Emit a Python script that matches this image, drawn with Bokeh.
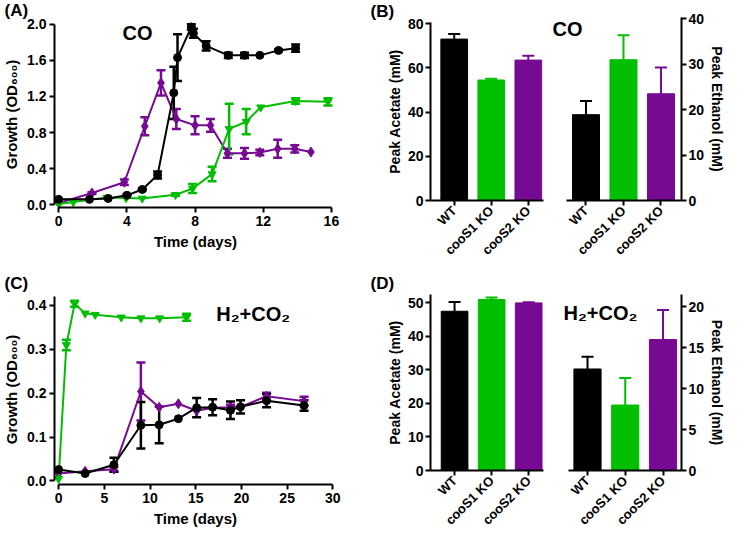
import math
from bokeh.plotting import figure
from bokeh.models import (Range1d, FixedTicker, PrintfTickFormatter, Whisker, TeeHead,
                          ColumnDataSource, Label)
from bokeh.layouts import row, column
from bokeh.embed import file_html
from bokeh.resources import INLINE

FONT = "Liberation Sans"
BLACK = "#000000"
GREEN = "#00BE00"
PURPLE = "#760A92"

# ---------------- data ----------------
GENOTYPES = ["WT", "cooS1 KO", "cooS2 KO"]
GENO_COLORS = [BLACK, GREEN, PURPLE]

# (A) growth on CO
a_wt_x = [0, 1.8, 2.9, 4.0, 4.9, 5.8, 6.75, 6.97, 7.78, 7.9, 8.65, 9.95, 10.9, 11.8, 12.9, 13.9]
a_wt_y = [0.06, 0.06, 0.07, 0.105, 0.17, 0.33, 1.24, 1.63, 1.97, 1.9, 1.76, 1.655, 1.655, 1.655, 1.71, 1.735]
a_wt_e = [0, 0, 0, 0.01, 0.01, 0.04, 0.29, 0.26, 0.03, 0.05, 0.05, 0.03, 0.03, 0, 0.01, 0.04]

a_s1_x = [0, 0.85, 2.85, 3.95, 4.9, 6.85, 7.85, 9.0, 10.0, 11.0, 11.85, 13.9, 15.8]
a_s1_y = [0.01, 0.03, 0.08, 0.075, 0.07, 0.11, 0.18, 0.34, 0.84, 0.92, 1.08, 1.15, 1.14]
a_s1_e = [0, 0, 0.01, 0, 0, 0.01, 0.05, 0.08, 0.28, 0.14, 0, 0.03, 0.04]

a_s2_x = [0, 1.95, 3.85, 5.05, 6.0, 6.9, 8.0, 8.9, 9.9, 10.9, 11.8, 12.85, 13.85, 14.8]
a_s2_y = [0.02, 0.13, 0.25, 0.87, 1.35, 0.95, 0.88, 0.88, 0.57, 0.57, 0.58, 0.62, 0.62, 0.585]
a_s2_e = [0, 0.01, 0.03, 0.1, 0.14, 0.11, 0.1, 0.07, 0.05, 0.06, 0.03, 0.1, 0.04, 0]

# (B) peak products on CO
b_acetate = [73.0, 54.5, 63.5]
b_acetate_err = [2.3, 0.6, 2.0]
b_ethanol = [18.9, 31.0, 23.5]
b_ethanol_err = [3.0, 5.4, 5.8]

# (C) growth on H2+CO2
c_s1_x = [0, 0.85, 1.75, 2.9, 4.0, 6.85, 9.0, 11.05, 14.0]
c_s1_y = [0.005, 0.31, 0.404, 0.382, 0.379, 0.373, 0.371, 0.371, 0.373]
c_s1_e = [0, 0.012, 0.007, 0, 0, 0, 0, 0, 0.008]

c_wt_x = [0, 2.9, 6.05, 9.0, 11.0, 13.1, 15.1, 16.85, 18.8, 19.9, 22.75, 26.85]
c_wt_y = [0.026, 0.017, 0.037, 0.127, 0.128, 0.142, 0.167, 0.168, 0.161, 0.169, 0.183, 0.172]
c_wt_e = [0, 0, 0.016, 0.053, 0.042, 0, 0.022, 0.018, 0.02, 0.015, 0.015, 0.012]

c_s2_x = [0, 2.9, 6.05, 9.0, 11.0, 13.1, 15.1, 16.85, 18.8, 19.9, 22.75, 26.85]
c_s2_y = [0.017, 0.022, 0.027, 0.204, 0.168, 0.176, 0.16, 0.167, 0.168, 0.169, 0.193, 0.182]
c_s2_e = [0, 0, 0.005, 0.066, 0, 0, 0, 0, 0.006, 0, 0.008, 0.01]

# (D) peak products on H2+CO2
d_acetate = [47.5, 51.0, 50.0]
d_acetate_err = [2.8, 0.6, 0.2]
d_ethanol = [12.4, 8.0, 16.0]
d_ethanol_err = [1.5, 3.3, 3.6]

# tick labels
A_XTICKS = [0, 4, 8, 12, 16]
A_YTICKS = [0.0, 0.4, 0.8, 1.2, 1.6, 2.0]
C_XTICKS = [0, 5, 10, 15, 20, 25, 30]
C_YTICKS = [0.0, 0.1, 0.2, 0.3, 0.4]
B_ACE_TICKS = [0, 20, 40, 60, 80]
B_ETH_TICKS = [0, 10, 20, 30, 40]
D_ACE_TICKS = [0, 10, 20, 30, 40, 50]
D_ETH_TICKS = [0, 5, 10, 15, 20]


# ---------------- helpers ----------------
def make_fig(g, letter=""):
    p = figure(width=g["w"], height=g["h"], title=letter,
               x_range=Range1d(*g["xr"]), y_range=Range1d(*g["yr"]),
               min_border_left=g["l"], min_border_right=g["w"] - g["l"] - g["fw"],
               min_border_top=g["t"], min_border_bottom=g["h"] - g["t"] - g["fh"],
               output_backend="svg", toolbar_location=None, frame_align=False,
               y_axis_location=g.get("yloc", "left"))
    p.title.text_font = FONT
    p.title.text_font_size = "17px"
    p.title.text_font_style = "bold"
    p.title.text_color = "black"
    p.title.align = "left"
    p.title.vertical_align = "top"
    p.title.standoff = 0
    p.title.offset = -g["l"]
    p.grid.visible = False
    p.outline_line_color = None
    p.background_fill_color = "white"
    p.border_fill_color = "white"
    for ax in p.axis:
        ax.axis_line_width = 2
        ax.axis_line_color = "black"
        ax.major_tick_line_width = 2
        ax.major_tick_out = 5
        ax.major_tick_in = 0
        ax.minor_tick_line_color = None
        ax.major_label_text_font = FONT
        ax.major_label_text_font_size = "14px"
        ax.major_label_text_font_style = "bold"
        ax.major_label_text_color = "black"
        ax.major_label_standoff = 3
        ax.axis_label_text_font = FONT
        ax.axis_label_text_font_size = "15px"
        ax.axis_label_text_font_style = "bold"
        ax.axis_label_text_color = "black"
        ax.axis_label_standoff = 4
    return p


def to_data(g, cx, cy):
    x0, x1 = g["xr"]
    y0, y1 = g["yr"]
    x = x0 + (cx - g["l"]) * (x1 - x0) / g["fw"]
    y = y1 - (cy - g["t"]) * (y1 - y0) / g["fh"]
    return x, y


def add_text(p, g, cx, cy, text, size, align="left"):
    x, y = to_data(g, cx, cy)
    p.add_layout(Label(x=x, y=y, text=text, text_font=FONT, text_font_size=size,
                       text_font_style="bold", text_color="black",
                       text_align=align, text_baseline="top"))


def add_series(p, x, y, e, color, marker, size):
    p.line(x, y, line_color=color, line_width=2)
    idx = [i for i, v in enumerate(e) if v > 0]
    src = ColumnDataSource(dict(x=[x[i] for i in idx],
                                lo=[y[i] - e[i] for i in idx],
                                hi=[y[i] + e[i] for i in idx]))
    p.add_layout(Whisker(source=src, base="x", lower="lo", upper="hi",
                         dimension="height", line_color=color, line_width=2.5,
                         upper_head=TeeHead(size=9, line_color=color, line_width=2.5),
                         lower_head=TeeHead(size=9, line_color=color, line_width=2.5)))
    p.scatter(x, y, marker=marker, size=size, fill_color=color, line_color=color)


def line_panel(g, letter, xticks, yticks, xbounds, ybounds, series, ylabel):
    p = make_fig(g, letter)
    p.xaxis.ticker = FixedTicker(ticks=xticks)
    p.yaxis.ticker = FixedTicker(ticks=yticks)
    p.yaxis.formatter = PrintfTickFormatter(format="%.1f")
    p.xaxis.bounds = xbounds
    p.yaxis.bounds = ybounds
    p.xaxis.axis_label = "Time (days)"
    p.yaxis.axis_label = ylabel
    for s in series:
        add_series(p, *s)
    return p


def bar_panel(g, letter, vals, errs, yticks, ylabel, xbounds=None):
    p = make_fig(g, letter)
    pos = list(range(len(GENOTYPES)))
    src = ColumnDataSource(dict(x=pos, top=vals, color=GENO_COLORS))
    p.vbar(x="x", top="top", bottom=0, width=0.72, fill_color="color",
           line_color="color", source=src)
    for i, (v, e, c) in enumerate(zip(vals, errs, GENO_COLORS)):
        s = ColumnDataSource(dict(x=[pos[i]], lo=[v], hi=[v + e]))
        p.add_layout(Whisker(source=s, base="x", lower="lo", upper="hi",
                             dimension="height", line_color=c, line_width=2,
                             upper_head=TeeHead(size=12, line_color=c, line_width=2),
                             lower_head=None))
    p.xaxis.ticker = FixedTicker(ticks=pos)
    p.xaxis.major_label_overrides = {i: t for i, t in zip(pos, GENOTYPES)}
    p.xaxis.major_label_orientation = math.pi / 4
    p.xaxis.major_label_text_font_size = "13px"
    if xbounds is not None:
        p.xaxis.bounds = xbounds
    p.yaxis.ticker = FixedTicker(ticks=yticks)
    p.yaxis.axis_label = ylabel
    p.yaxis.axis_label_text_font_size = "14px"
    p.yaxis.major_label_standoff = 2
    p.yaxis.axis_label_standoff = 2
    return p


# ---------------- geometry (canvas pixels) ----------------
gA = dict(w=370, h=266, l=50, t=20, fw=286, fh=187, xr=(-0.25, 16.3), yr=(-0.03, 2.03))
gB1 = dict(w=176, h=266, l=60, t=22, fw=113, fh=184, xr=(-0.64, 2.41), yr=(0, 80.5))
gB2 = dict(w=186, h=266, l=0, t=17, fw=135, fh=189, xr=(-1.053, 2.547), yr=(0, 40.3), yloc="right")
gC = dict(w=370, h=270, l=50, t=28, fw=286, fh=190, xr=(-0.45, 30.4), yr=(-0.008, 0.425))
gD1 = dict(w=176, h=270, l=60, t=28, fw=113, fh=182, xr=(-0.65, 2.4), yr=(0, 52.5))
gD2 = dict(w=186, h=270, l=0, t=28, fw=135, fh=182, xr=(-1.086, 2.49), yr=(0, 21.5), yloc="right")

OD = "Growth (OD\u2086\u2080\u2080)"

pA = line_panel(gA, "(A)", A_XTICKS, A_YTICKS, (0, 16), (0, 2.0), [
    (a_s2_x, a_s2_y, a_s2_e, PURPLE, "diamond", 10),
    (a_s1_x, a_s1_y, a_s1_e, GREEN, "inverted_triangle", 8),
    (a_wt_x, a_wt_y, a_wt_e, BLACK, "circle", 8),
], OD)
add_text(pA, gA, 119, 20, "CO", "20px")

pB1 = bar_panel(gB1, "(B)", b_acetate, b_acetate_err, B_ACE_TICKS, "Peak Acetate (mM)")
pB2 = bar_panel(gB2, "", b_ethanol, b_ethanol_err, B_ETH_TICKS, "Peak Ethanol (mM)",
                xbounds=(-0.52, 2.547))
add_text(pB2, gB2, 6, 17, "CO", "20px")

pC = line_panel(gC, "(C)", C_XTICKS, C_YTICKS, (0, 30), (0, 0.42), [
    (c_s2_x, c_s2_y, c_s2_e, PURPLE, "diamond", 10),
    (c_s1_x, c_s1_y, c_s1_e, GREEN, "inverted_triangle", 8),
    (c_wt_x, c_wt_y, c_wt_e, BLACK, "circle", 8),
], OD)
add_text(pC, gC, 214, 36, "H\u2082+CO\u2082", "20px")

pD1 = bar_panel(gD1, "(D)", d_acetate, d_acetate_err, D_ACE_TICKS, "Peak Acetate (mM)")
pD2 = bar_panel(gD2, "", d_ethanol, d_ethanol_err, D_ETH_TICKS, "Peak Ethanol (mM)",
                xbounds=(-0.5, 2.49))
add_text(pD2, gD2, 17, 36, "H\u2082+CO\u2082", "20px")

layout = column(row(pA, pB1, pB2), row(pC, pD1, pD2))
open("out.html", "w").write(file_html(layout, INLINE))
